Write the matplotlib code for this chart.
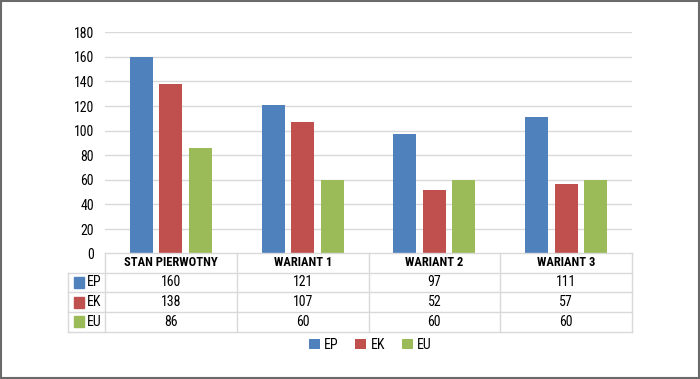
import matplotlib
matplotlib.use('Agg')
import matplotlib.pyplot as plt
from matplotlib.patches import Rectangle

plt.rcParams['font.family'] = ['Roboto Condensed', 'PT Sans Narrow', 'Archivo Narrow', 'DejaVu Sans']

# Data
categories = ['STAN PIERWOTNY', 'WARIANT 1', 'WARIANT 2', 'WARIANT 3']
series_names = ['EP', 'EK', 'EU']
ep_values = [160, 121, 97, 111]
ek_values = [138, 107, 52, 57]
eu_values = [86, 60, 60, 60]
y_ticks = [0, 20, 40, 60, 80, 100, 120, 140, 160, 180]

colors = ['#4F81BD', '#C0504D', '#9BBB59']
grid_col = '#D9D9D9'
text_col = '#000000'
fs = 10

W, H = 700, 379
fig = plt.figure(figsize=(W / 100, H / 100), dpi=100)

def px(x0, y0, x1, y1):
    # pixel box (top-left origin) -> figure fraction
    return [x0 / W, 1 - y1 / H, (x1 - x0) / W, (y1 - y0) / H]

# outer frame
fig.patches.append(Rectangle((1 / W, 1.5 / H), 1 - 2 / W, 1 - 2.5 / H,
                             transform=fig.transFigure, fill=False,
                             edgecolor='#6A6A6A', linewidth=1.5))

# bar axes
ax = fig.add_axes(px(105, 32.3, 632, 253.7))
n = len(categories)
xs = list(range(n))
bw = 0.175
step = 0.224
for i, (name, vals) in enumerate(zip(series_names, [ep_values, ek_values, eu_values])):
    ax.bar([x + (i - 1) * step for x in xs], vals, width=bw, color=colors[i],
           zorder=3, label=name)
ax.set_xlim(-0.5, n - 0.5)
ax.set_ylim(0, 180)
ax.set_yticks(y_ticks)
ax.set_xticks([])
ax.tick_params(axis='y', length=0, pad=8, labelsize=fs, labelcolor=text_col)
ax.grid(axis='y', color=grid_col, linewidth=1, zorder=0)
for s in ax.spines.values():
    s.set_visible(False)

# data table axes, aligned with bar x scale
cat_px = (632 - 105) / n
left_units = (105 - 68) / cat_px
tab = fig.add_axes(px(68, 253, 632, 331.5))
tab.set_xlim(-0.5 - left_units, n - 0.5)
tab.set_ylim(4, 0)
tab.axis('off')
x_left = -0.5 - left_units
lw = 1
# horizontal lines
tab.plot([-0.5, n - 0.5], [0, 0], color=grid_col, lw=lw, clip_on=False)
for r in range(1, 5):
    tab.plot([x_left, n - 0.5], [r, r], color=grid_col, lw=lw, clip_on=False)
# vertical lines
tab.plot([x_left, x_left], [1, 4], color=grid_col, lw=lw, clip_on=False)
for c in range(n + 1):
    tab.plot([c - 0.5, c - 0.5], [0, 4], color=grid_col, lw=lw, clip_on=False)

for c, cat in enumerate(categories):
    tab.text(c, 0.5, cat, ha='center', va='center', fontsize=9,
             fontweight='bold', color=text_col)
for r, (name, vals) in enumerate(zip(series_names, [ep_values, ek_values, eu_values])):
    for c, v in enumerate(vals):
        tab.text(c, r + 1.5, str(v), ha='center', va='center', fontsize=fs,
                 color=text_col)
    key_x = x_left + 6 / cat_px
    tab.add_patch(Rectangle((key_x, r + 1.5 - 0.28), 10 / cat_px, 0.56,
                            color=colors[r], clip_on=False))
    tab.text(key_x + 12.5 / cat_px, r + 1.5, name, ha='left', va='center',
             fontsize=fs, color=text_col)

# legend
leg = fig.legend(loc='center', bbox_to_anchor=(370 / W, 1 - 345 / H), ncol=3,
                 frameon=False, fontsize=fs, handlelength=0.8, handleheight=0.8,
                 handletextpad=0.3, columnspacing=1.2)

fig.savefig('out.png', dpi=100)
